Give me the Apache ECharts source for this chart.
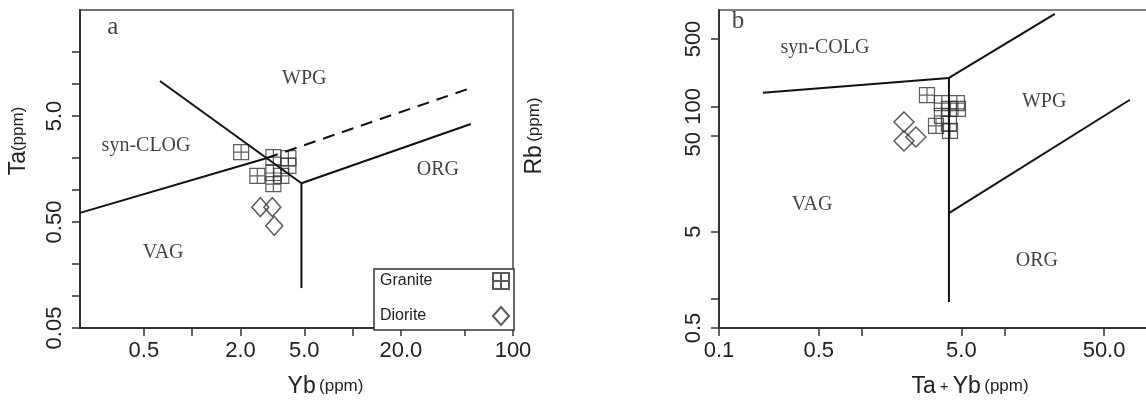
<!DOCTYPE html>
<html>
<head>
<meta charset="utf-8">
<title>Ta-Yb / Rb-(Ta+Yb)</title>
<script src="https://cdn.jsdelivr.net/npm/echarts@6.0.0/dist/echarts.min.js"></script>
<style>
html, body { margin: 0; padding: 0; background: #fff; }
#main { width: 1146px; height: 403px; }
</style>
</head>
<body>
<div id="main"></div>
<script>
// ---- a : Ta vs Yb (ppm) ----
var aGraniteYb = [2.02, 3.21, 3.98, 3.98, 2.55, 3.21, 3.6, 3.21];
var aGraniteTa = [2.28, 2.05, 2.0, 1.69, 1.36, 1.45, 1.36, 1.14];
var aDioriteYb = [2.66, 3.16, 3.25];
var aDioriteTa = [0.69, 0.69, 0.46];

// boundaries [Yb, Ta]
var aLineColgWpg = [[0.63, 10.7], [4.8, 1.16]];
var aLineVagColg = [[0.2, 0.61], [2.9, 2.0]];
var aLineDash = [[2.9, 2.0], [57, 9.4]];
var aLineWpgOrg = [[4.8, 1.16], [54.6, 4.2]];
var aLineVagOrg = [[4.8, 1.16], [4.8, 0.119]];

var aXTicks = [0.5, 1, 2, 5, 10, 20, 50, 100];
var aXLabelVals = [0.5, 2, 5, 20, 100];
var aXLabelText = ['0.5', '2.0', '5.0', '20.0', '100'];
var aYTicks = [0.05, 0.1, 0.2, 0.5, 1, 2, 5, 10, 20];
var aYLabelVals = [0.05, 0.5, 5];
var aYLabelText = ['0.05', '0.50', '5.0'];

var aRegionNames = ['a', 'WPG', 'syn-CLOG', 'ORG', 'VAG'];
var aRegionPos = [[0.32, 34.6], [5.0, 11.2], [0.516, 2.6], [34, 1.55], [0.66, 0.254]];

// ---- b : Rb vs Ta+Yb (ppm) ----
var bGraniteTaYb = [2.87, 3.65, 4.65, 4.09, 4.73, 3.65, 3.32, 4.09, 4.16];
var bGraniteRb = [131, 108, 108, 94, 94, 79.5, 62.6, 65.7, 55.5];
var bDioriteTaYb = [1.98, 1.98, 2.40];
var bDioriteRb = [68.9, 43.7, 48.1];

// boundaries [Ta+Yb, Rb]
var bLineColg = [[0.203, 138], [4.09, 197]];
var bLineColgWpg = [[4.09, 197], [22.6, 910]];
var bLineVagOrg = [[4.09, 197], [4.09, 0.93]];
var bLineWpgOrg = [[4.09, 7.8], [75.9, 117]];

var bXTicks = [0.1, 0.5, 1, 5, 10, 50];
var bXLabelVals = [0.1, 0.5, 5, 50];
var bXLabelText = ['0.1', '0.5', '5.0', '50.0'];
var bYTicks = [0.5, 1, 5, 50, 100, 500];
var bYLabelVals = [0.5, 5, 50, 100, 500];
var bYLabelText = ['0.5', '5', '{low|50}', '100', '500'];

var bRegionNames = ['b', 'syn-COLG', 'WPG', 'VAG', 'ORG'];
var bRegionPos = [[0.136, 753], [0.553, 404], [19, 111], [0.449, 9.5], [16.9, 2.48]];

var granitePath = 'path://M0,0H10V10H0Z M5,0V10 M0,5H10';
var sansFont = 'Liberation Sans, Arial, sans-serif';
var serifFont = 'Liberation Serif, Times New Roman, serif';

function lg(v) {
    return Math.log10(v);
}

function toLog(pts) {
    return pts.map(function (p) { return [lg(p[0]), lg(p[1])]; });
}

function zip(xs, ys) {
    var out = [];
    for (var i = 0; i < xs.length; i++) {
        out.push([lg(xs[i]), lg(ys[i])]);
    }
    return out;
}

function labelFormatter(vals, texts) {
    return function (v) {
        for (var i = 0; i < vals.length; i++) {
            if (Math.abs(lg(vals[i]) - v) < 1e-6) return texts[i];
        }
        return '';
    };
}

function lineSeries(pts, idx, dashed) {
    return {
        type: 'line',
        xAxisIndex: idx,
        yAxisIndex: idx,
        data: toLog(pts),
        symbol: 'none',
        silent: true,
        animation: false,
        lineStyle: { color: '#111', width: 2, type: dashed ? [12, 8] : 'solid' }
    };
}

function textSeries(names, pos, idx) {
    var data = [];
    for (var i = 0; i < names.length; i++) {
        data.push({ name: names[i], value: [lg(pos[i][0]), lg(pos[i][1])] });
    }
    return {
        type: 'scatter',
        xAxisIndex: idx,
        yAxisIndex: idx,
        data: data,
        symbolSize: 1,
        silent: true,
        animation: false,
        itemStyle: { color: 'transparent' },
        label: {
            show: true,
            position: 'inside',
            formatter: '{b}',
            fontFamily: serifFont,
            fontSize: 20,
            color: '#111'
        }
    };
}

function xAxis(idx, min, max, ticks, lv, lt, name, padLeft) {
    return {
        gridIndex: idx,
        type: 'value',
        min: min,
        max: max,
        splitLine: { show: false },
        axisLine: { show: true, onZero: false, lineStyle: { color: '#333', width: 2 } },
        axisTick: { show: true, length: 8, customValues: ticks.map(lg), lineStyle: { color: '#333', width: 1.5 } },
        axisLabel: {
            customValues: lv.map(lg),
            formatter: labelFormatter(lv, lt),
            fontFamily: sansFont,
            fontSize: 22,
            color: '#222',
            margin: 12
        },
        name: name,
        nameLocation: 'middle',
        nameGap: 47,
        nameTextStyle: {
            padding: [0, 0, 0, padLeft],
            rich: {
                t: { fontFamily: sansFont, fontSize: 23, color: '#222' },
                s: { fontFamily: sansFont, fontSize: 15, color: '#222' },
                p: { fontFamily: sansFont, fontSize: 17, color: '#222' }
            }
        }
    };
}

function yAxis(idx, min, max, ticks, lv, lt, name, gap, padLeft) {
    return {
        gridIndex: idx,
        type: 'value',
        min: min,
        max: max,
        splitLine: { show: false },
        axisLine: { show: true, onZero: false, lineStyle: { color: '#333', width: 2 } },
        axisTick: { show: true, length: 8, customValues: ticks.map(lg), lineStyle: { color: '#333', width: 1.5 } },
        axisLabel: {
            customValues: lv.map(lg),
            formatter: labelFormatter(lv, lt),
            fontFamily: sansFont,
            fontSize: 22,
            color: '#222',
            rotate: 90,
            margin: 14,
            rich: {
                // "50" sits a little lower in the original
                low: { fontFamily: sansFont, fontSize: 22, color: '#222', padding: [0, 18, 0, 0] }
            }
        },
        name: name,
        nameLocation: 'middle',
        nameRotate: 90,
        nameGap: gap,
        nameTextStyle: {
            padding: [0, 0, 0, padLeft],
            rich: {
                t: { fontFamily: sansFont, fontSize: 23, color: '#222' },
                p: { fontFamily: sansFont, fontSize: 17, color: '#222' }
            }
        }
    };
}

var myChart = echarts.init(document.getElementById('main'));

var option = {
    animation: false,
    backgroundColor: '#fff',
    grid: [
        { left: 80, top: 10, width: 433, height: 318, show: true, borderColor: '#444', borderWidth: 1.5, containLabel: false, outerBoundsMode: 'none' },
        { left: 719, top: 10, width: 428, height: 318, show: true, borderColor: '#555', borderWidth: 1.5, containLabel: false, outerBoundsMode: 'none' }
    ],
    xAxis: [
        xAxis(0, lg(0.2), lg(100), aXTicks, aXLabelVals, aXLabelText, '{t|Yb} {p|(ppm)}', 58),
        xAxis(1, lg(0.1), lg(100), bXTicks, bXLabelVals, bXLabelText, '{t|Ta}{s| + }{t|Yb} {p|(ppm)}', 74)
    ],
    yAxis: [
        yAxis(0, lg(0.05), lg(50), aYTicks, aYLabelVals, aYLabelText, '{t|Ta}{p|(ppm)}', 50, 56),
        yAxis(1, lg(0.5), lg(1000), bYTicks, bYLabelVals, bYLabelText, '{t|Rb} {p|(ppm)}', 173, 66)
    ],
    legend: {
        data: ['Granite', 'Diorite'],
        orient: 'vertical',
        left: 374,
        top: 269,
        align: 'right',
        itemWidth: 16,
        itemHeight: 18,
        itemGap: 16,
        padding: [3, 4, 4, 6],
        borderColor: '#333',
        borderWidth: 1.5,
        backgroundColor: '#fff',
        selectedMode: false,
        formatter: function (name) {
            return '{n|' + name + '}';
        },
        textStyle: {
            fontFamily: sansFont,
            fontSize: 16,
            color: '#222',
            rich: {
                n: { fontFamily: sansFont, fontSize: 16, color: '#222', width: 108, align: 'left' }
            }
        }
    },
    series: [
        lineSeries(aLineColgWpg, 0),
        lineSeries(aLineVagColg, 0),
        lineSeries(aLineDash, 0, true),
        lineSeries(aLineWpgOrg, 0),
        lineSeries(aLineVagOrg, 0),
        lineSeries(bLineColg, 1),
        lineSeries(bLineColgWpg, 1),
        lineSeries(bLineVagOrg, 1),
        lineSeries(bLineWpgOrg, 1),
        {
            name: 'Granite',
            type: 'scatter',
            xAxisIndex: 0,
            yAxisIndex: 0,
            data: zip(aGraniteYb, aGraniteTa),
            symbol: granitePath,
            symbolSize: 15,
            itemStyle: { color: 'transparent', borderColor: '#333', borderWidth: 1.2 }
        },
        {
            name: 'Diorite',
            type: 'scatter',
            xAxisIndex: 0,
            yAxisIndex: 0,
            data: zip(aDioriteYb, aDioriteTa),
            symbol: 'diamond',
            symbolSize: [17, 19],
            itemStyle: { color: 'transparent', borderColor: '#333', borderWidth: 1.5 }
        },
        {
            name: 'Granite',
            type: 'scatter',
            xAxisIndex: 1,
            yAxisIndex: 1,
            data: zip(bGraniteTaYb, bGraniteRb),
            symbol: granitePath,
            symbolSize: 15,
            itemStyle: { color: 'transparent', borderColor: '#333', borderWidth: 1.2 }
        },
        {
            name: 'Diorite',
            type: 'scatter',
            xAxisIndex: 1,
            yAxisIndex: 1,
            data: zip(bDioriteTaYb, bDioriteRb),
            symbol: 'diamond',
            symbolSize: [20, 20],
            itemStyle: { color: 'transparent', borderColor: '#333', borderWidth: 1.5 }
        },
        textSeries(aRegionNames, aRegionPos, 0),
        textSeries(bRegionNames, bRegionPos, 1)
    ]
};

// letters a / b a bit larger
option.series[option.series.length - 2].data[0].label = { fontSize: 25 };
option.series[option.series.length - 1].data[0].label = { fontSize: 25 };

myChart.setOption(option);
</script>
</body>
</html>
